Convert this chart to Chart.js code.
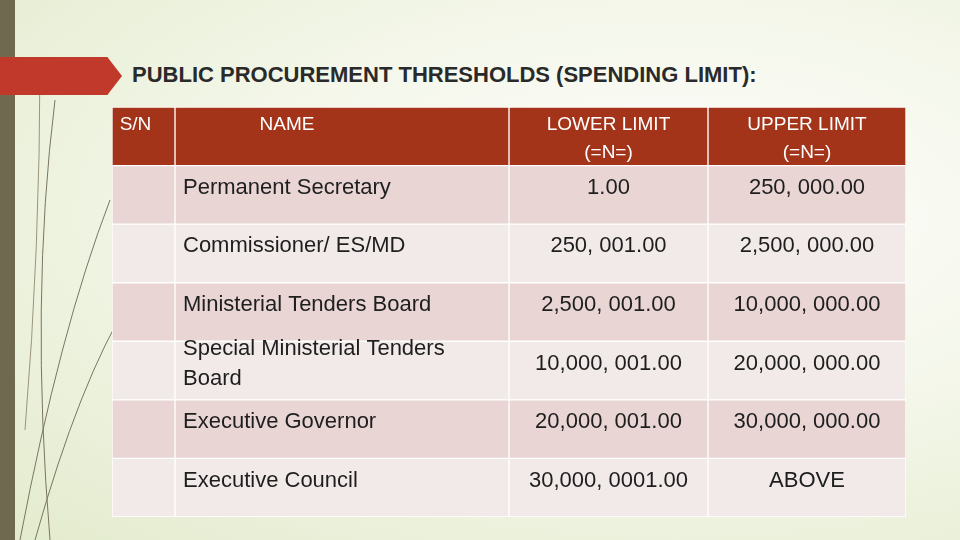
<!DOCTYPE html>
<html>
<head>
<style>
  body { margin:0; width:960px; height:540px; overflow:hidden; font-family:"Liberation Sans", Arial, sans-serif;
         background: radial-gradient(ellipse at 70% 40%, #ffffff 0%, #f4f7ea 45%, #e3ebcd 100%); position:relative; }
  #strip { position:absolute; left:0; top:0; width:15px; height:540px; background:#6f6a4f; }
  #arrow { position:absolute; left:0; top:57px; width:122px; height:38px; background:#c0392b;
           clip-path: polygon(0 0, 88% 0, 100% 50%, 88% 100%, 0 100%); }
  #title { position:absolute; left:132px; top:60px; width:700px; font-weight:bold; font-size:22px; color:#2a2a2a; line-height:30px; }
  #wrap { position:absolute; left:112px; top:107px; width:794px; height:410px; }
  svg { position:absolute; left:0; top:0; }
</style>
</head>
<body>
<div id="strip"></div>
<svg width="140" height="540">
  <path d="M50 540 Q30 300 55 100" stroke="#7a7560" stroke-width="1" fill="none"/>
  <path d="M20 540 Q60 330 110 200" stroke="#7a7560" stroke-width="1" fill="none"/>
  <path d="M35 540 Q80 380 130 300" stroke="#7a7560" stroke-width="1" fill="none"/>
  <path d="M25 430 Q40 250 40 60" stroke="#9a957a" stroke-width="1" fill="none"/>
</svg>
<div id="arrow"></div>
<div id="title">PUBLIC PROCUREMENT THRESHOLDS (SPENDING LIMIT):</div>
<div id="wrap"><canvas id="myChart"></canvas></div>
<script src="https://cdn.jsdelivr.net/npm/chart.js@4"></script>
<script>
var headers = [["S/N"], ["NAME"], ["LOWER LIMIT", "(=N=)"], ["UPPER LIMIT", "(=N=)"]];
var sn = ["", "", "", "", "", ""];
var names = [["Permanent Secretary"], ["Commissioner/ ES/MD"], ["Ministerial Tenders Board"],
             ["Special Ministerial Tenders", "Board"], ["Executive Governor"], ["Executive Council"]];
var lowerLimit = ["1.00", "250, 001.00", "2,500, 001.00", "10,000, 001.00", "20,000, 001.00", "30,000, 0001.00"];
var upperLimit = ["250, 000.00", "2,500, 000.00", "10,000, 000.00", "20,000, 000.00", "30,000, 000.00", "ABOVE"];

var colEdges = [0, 63, 397, 596, 794];
var rowLabels = ["h", "1", "2", "3", "4", "5", "6"];
var columns = [sn, names, lowerLimit, upperLimit];

function rowColor(i) { return i === 0 ? "#a33419" : (i % 2 === 1 ? "#e8d5d4" : "#f2eae9"); }

var datasets = columns.map(function (col, c) {
  return {
    data: rowLabels.map(function () { return [colEdges[c], colEdges[c + 1]]; }),
    backgroundColor: rowLabels.map(function (r, i) { return rowColor(i); }),
    borderColor: "#ffffff", borderWidth: 1, borderSkipped: false,
    categoryPercentage: 1, barPercentage: 1, grouped: false
  };
});

var textPlugin = {
  id: "cellText",
  afterDatasetsDraw: function (chart) {
    var ctx = chart.ctx;
    ctx.save();
    ctx.textBaseline = "middle";
    chart.data.datasets.forEach(function (ds, c) {
      chart.getDatasetMeta(c).data.forEach(function (el, i) {
        var lines = i === 0 ? headers[c] : [].concat(columns[c][i - 1]);
        var left = Math.min(el.x, el.base), right = Math.max(el.x, el.base);
        if (i === 0) {
          ctx.fillStyle = "#ffffff"; ctx.font = "19px 'Liberation Sans', Arial";
          ctx.textAlign = "center";
          lines.forEach(function (t, k) { ctx.fillText(t, (left + right) / 2 + (c === 1 ? -55 : 0) - (c === 0 ? 8 : 0), el.y - 12 + k * 28); });
        } else {
          ctx.fillStyle = "#1e1e1e"; ctx.font = "22px 'Liberation Sans', Arial";
          var start = el.y - (lines.length - 1) * 15 - 7;
          ctx.textAlign = c === 1 ? "left" : "center";
          var x = c === 1 ? left + 8 : (left + right) / 2;
          lines.forEach(function (t, k) { ctx.fillText(t, x, start + k * 30); });
        }
      });
    });
    ctx.restore();
  }
};

new Chart(document.getElementById("myChart"), {
  type: "bar",
  data: { labels: rowLabels, datasets: datasets },
  options: {
    indexAxis: "y", responsive: true, maintainAspectRatio: false, animation: false,
    layout: { padding: 0 },
    plugins: { legend: { display: false }, tooltip: { enabled: false } },
    scales: {
      x: { type: "linear", min: 0, max: 794, display: false },
      y: { display: false }
    }
  },
  plugins: [textPlugin]
});
</script>
</body>
</html>
